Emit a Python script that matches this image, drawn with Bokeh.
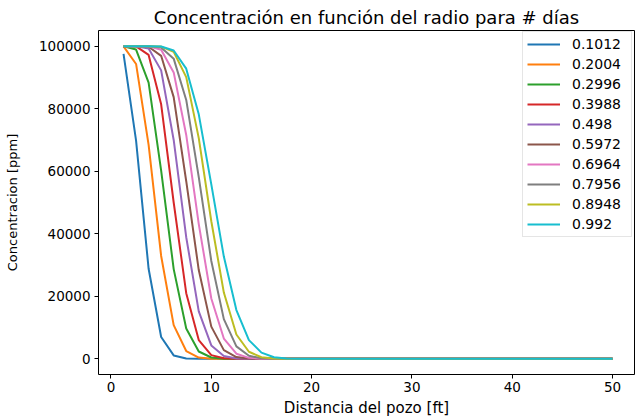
from bokeh.plotting import figure
from bokeh.models import Range1d, FixedTicker, NumeralTickFormatter
from bokeh.embed import file_html
from bokeh.resources import INLINE

# Radial distance from the well [ft]
distancia_ft = [1.25, 2.5, 3.75, 5.0, 6.25, 7.5, 8.75, 10.0, 11.25, 12.5,
                13.75, 15.0, 16.25, 17.5, 18.75, 20.0, 21.25, 22.5, 23.75, 25.0,
                26.25, 27.5, 28.75, 30.0, 31.25, 32.5, 33.75, 35.0, 36.25, 37.5,
                38.75, 40.0, 41.25, 42.5, 43.75, 45.0, 46.25, 47.5, 48.75, 50.0]

# Elapsed time of each profile [days]
dias = ["0.1012", "0.2004", "0.2996", "0.3988", "0.498",
        "0.5972", "0.6964", "0.7956", "0.8948", "0.992"]

# Concentration profiles [ppm], one list per time
c_01012 = [97500, 69800, 28800, 7000, 1100, 110, 10, 0, 0, 0,
           0, 0, 0, 0, 0, 0, 0, 0, 0, 0, 0, 0, 0, 0, 0, 0, 0, 0, 0, 0,
           0, 0, 0, 0, 0, 0, 0, 0, 0, 0]
c_02004 = [99900, 94300, 68400, 32900, 10800, 2500, 400, 50, 5, 0,
           0, 0, 0, 0, 0, 0, 0, 0, 0, 0, 0, 0, 0, 0, 0, 0, 0, 0, 0, 0,
           0, 0, 0, 0, 0, 0, 0, 0, 0, 0]
c_02996 = [99990, 98900, 88300, 60200, 28700, 9700, 2350, 445, 68, 8,
           0, 0, 0, 0, 0, 0, 0, 0, 0, 0, 0, 0, 0, 0, 0, 0, 0, 0, 0, 0,
           0, 0, 0, 0, 0, 0, 0, 0, 0, 0]
c_03988 = [100000, 99900, 97200, 81400, 50000, 21000, 6000, 1200, 180, 20,
           2, 0, 0, 0, 0, 0, 0, 0, 0, 0, 0, 0, 0, 0, 0, 0, 0, 0, 0, 0,
           0, 0, 0, 0, 0, 0, 0, 0, 0, 0]
c_04980 = [100000, 99990, 99250, 92250, 70000, 38900, 15200, 4300, 900, 140,
           17, 2, 0, 0, 0, 0, 0, 0, 0, 0, 0, 0, 0, 0, 0, 0, 0, 0, 0, 0,
           0, 0, 0, 0, 0, 0, 0, 0, 0, 0]
c_05972 = [100000, 100000, 99800, 96900, 83700, 56800, 28400, 10300, 2800, 570,
           90, 12, 1, 0, 0, 0, 0, 0, 0, 0, 0, 0, 0, 0, 0, 0, 0, 0, 0, 0,
           0, 0, 0, 0, 0, 0, 0, 0, 0, 0]
c_06964 = [100000, 100000, 99950, 98850, 91600, 71600, 43100, 19300, 6500, 1650,
           330, 54, 7, 0, 0, 0, 0, 0, 0, 0, 0, 0, 0, 0, 0, 0, 0, 0, 0, 0,
           0, 0, 0, 0, 0, 0, 0, 0, 0, 0]
c_07956 = [100000, 100000, 99990, 99600, 96000, 82800, 58100, 31300, 12700, 4000,
           980, 180, 30, 4, 0, 0, 0, 0, 0, 0, 0, 0, 0, 0, 0, 0, 0, 0, 0, 0,
           0, 0, 0, 0, 0, 0, 0, 0, 0, 0]
c_08948 = [100000, 100000, 100000, 99860, 98200, 90100, 70600, 44000, 21200, 7800,
           2270, 520, 100, 15, 2, 0, 0, 0, 0, 0, 0, 0, 0, 0, 0, 0, 0, 0, 0, 0,
           0, 0, 0, 0, 0, 0, 0, 0, 0, 0]
c_09920 = [100000, 100000, 100000, 99870, 98600, 92800, 78200, 55800, 32700, 15600,
           6000, 2000, 530, 130, 25, 5, 0, 0, 0, 0, 0, 0, 0, 0, 0, 0, 0, 0, 0, 0,
           0, 0, 0, 0, 0, 0, 0, 0, 0, 0]

perfiles = [c_01012, c_02004, c_02996, c_03988, c_04980,
            c_05972, c_06964, c_07956, c_08948, c_09920]

ticks_x = [0, 10, 20, 30, 40, 50]
ticks_y = [0, 20000, 40000, 60000, 80000, 100000]

colores = ["#1f77b4", "#ff7f0e", "#2ca02c", "#d62728", "#9467bd",
           "#8c564b", "#e377c2", "#7f7f7f", "#bcbd22", "#17becf"]

FONT = "DejaVu Sans"

p = figure(width=635, height=420, output_backend="svg", toolbar_location=None,
           x_range=Range1d(-1.246, 52.19), y_range=Range1d(-5000, 105000),
           min_border_left=98, min_border_right=1, min_border_top=30,
           min_border_bottom=46)

p.background_fill_color = "white"
p.border_fill_color = "white"
p.outline_line_color = "black"
p.outline_line_width = 1
p.xgrid.visible = False
p.ygrid.visible = False

for conc, lbl, col in zip(perfiles, dias, colores):
    p.line(distancia_ft, conc, line_color=col, line_width=2, legend_label=lbl)

# Title
p.title.text = "Concentración en función del radio para # días"
p.title.align = "center"
p.title.text_font = FONT
p.title.text_font_size = "18px"
p.title.text_font_style = "normal"
p.title.text_color = "black"
p.title.standoff = 5

# Axes
for ax in (p.xaxis[0], p.yaxis[0]):
    ax.axis_line_color = None
    ax.major_tick_in = 0
    ax.major_tick_out = 4
    ax.major_tick_line_color = "black"
    ax.minor_tick_in = 0
    ax.minor_tick_out = 0
    ax.major_label_text_font = FONT
    ax.major_label_text_font_size = "13.5px"
    ax.major_label_text_color = "black"
    ax.major_label_standoff = 3
    ax.axis_label_text_font = FONT
    ax.axis_label_text_font_style = "normal"
    ax.axis_label_text_color = "black"

p.xaxis[0].ticker = FixedTicker(ticks=ticks_x)
p.yaxis[0].ticker = FixedTicker(ticks=ticks_y)
p.yaxis[0].formatter = NumeralTickFormatter(format="0")
p.yaxis[0].major_label_standoff = 4

p.xaxis[0].axis_label = "Distancia del pozo [ft]"
p.xaxis[0].axis_label_text_font_size = "15px"
p.xaxis[0].axis_label_standoff = 4

p.yaxis[0].axis_label = "Concentracion [ppm]"
p.yaxis[0].axis_label_text_font_size = "13px"
p.yaxis[0].axis_label_standoff = 16

# Legend
lg = p.legend[0]
lg.location = (424, 137)
lg.margin = 0
lg.padding = 4
lg.spacing = 4
lg.glyph_height = 16
lg.label_height = 16
lg.glyph_width = 33
lg.label_standoff = 12
lg.label_width = 55
lg.label_text_font = FONT
lg.label_text_font_size = "14px"
lg.label_text_color = "black"
lg.border_line_color = "#cccccc"
lg.border_line_width = 1
lg.background_fill_color = "white"
lg.background_fill_alpha = 0.8

open("out.html", "w").write(file_html(p, INLINE))
